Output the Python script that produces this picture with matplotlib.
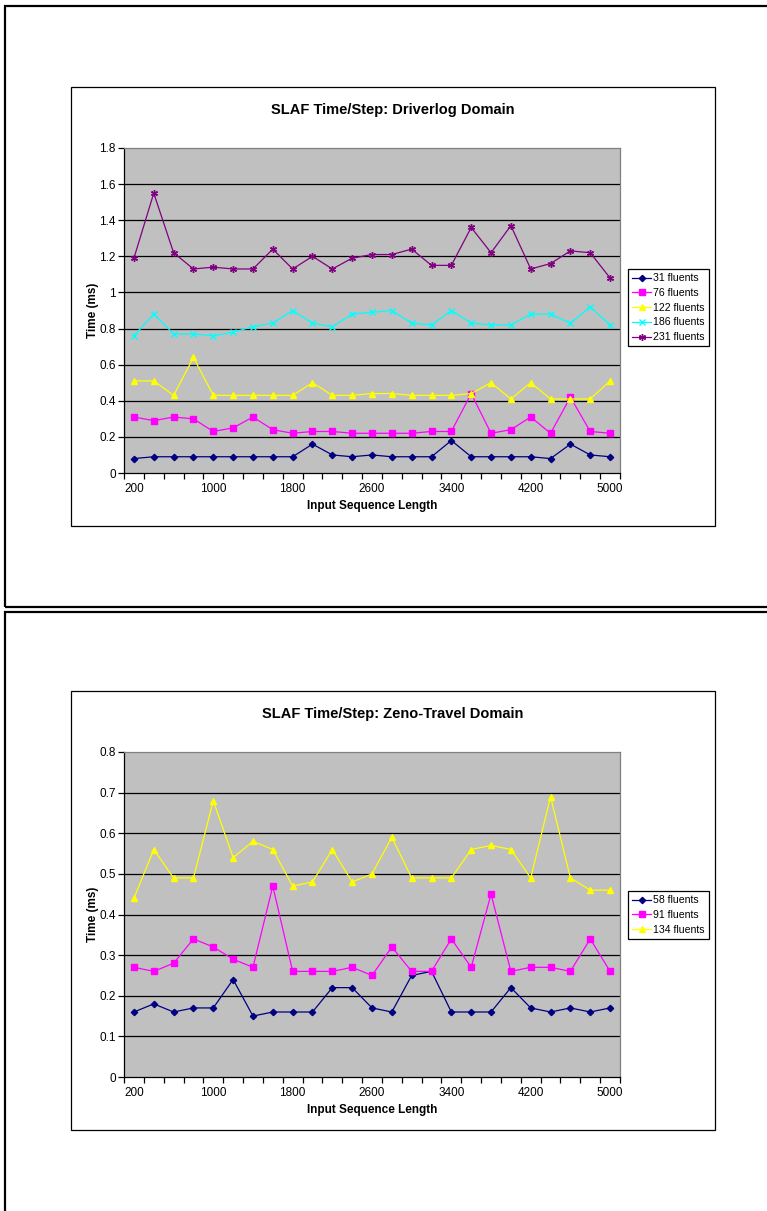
import matplotlib
matplotlib.use("Agg")
import matplotlib.pyplot as plt
from matplotlib.patches import Rectangle
from matplotlib.ticker import FixedLocator, FixedFormatter

plt.rcParams['font.family'] = ['Liberation Sans', 'DejaVu Sans']

# Input sequence lengths (categories)
seq_lengths = list(range(200, 5001, 200))
tick_labels = ['200', '1000', '1800', '2600', '3400', '4200', '5000']

# Driverlog domain: time per step (ms)
drv_31 = [0.08, 0.09, 0.09, 0.09, 0.09, 0.09, 0.09, 0.09, 0.09, 0.16, 0.10, 0.09, 0.10,
          0.09, 0.09, 0.09, 0.18, 0.09, 0.09, 0.09, 0.09, 0.08, 0.16, 0.10, 0.09]
drv_76 = [0.31, 0.29, 0.31, 0.30, 0.23, 0.25, 0.31, 0.24, 0.22, 0.23, 0.23, 0.22, 0.22,
          0.22, 0.22, 0.23, 0.23, 0.44, 0.22, 0.24, 0.31, 0.22, 0.42, 0.23, 0.22]
drv_122 = [0.51, 0.51, 0.43, 0.64, 0.43, 0.43, 0.43, 0.43, 0.43, 0.50, 0.43, 0.43, 0.44,
           0.44, 0.43, 0.43, 0.43, 0.44, 0.50, 0.41, 0.50, 0.41, 0.41, 0.41, 0.51]
drv_186 = [0.76, 0.88, 0.77, 0.77, 0.76, 0.78, 0.81, 0.83, 0.90, 0.83, 0.81, 0.88, 0.89,
           0.90, 0.83, 0.82, 0.90, 0.83, 0.82, 0.82, 0.88, 0.88, 0.83, 0.92, 0.82]
drv_231 = [1.19, 1.55, 1.22, 1.13, 1.14, 1.13, 1.13, 1.24, 1.13, 1.20, 1.13, 1.19, 1.21,
           1.21, 1.24, 1.15, 1.15, 1.36, 1.22, 1.37, 1.13, 1.16, 1.23, 1.22, 1.08]

# Zeno-Travel domain: time per step (ms)
zeno_58 = [0.16, 0.18, 0.16, 0.17, 0.17, 0.24, 0.15, 0.16, 0.16, 0.16, 0.22, 0.22, 0.17,
           0.16, 0.25, 0.26, 0.16, 0.16, 0.16, 0.22, 0.17, 0.16, 0.17, 0.16, 0.17]
zeno_91 = [0.27, 0.26, 0.28, 0.34, 0.32, 0.29, 0.27, 0.47, 0.26, 0.26, 0.26, 0.27, 0.25,
           0.32, 0.26, 0.26, 0.34, 0.27, 0.45, 0.26, 0.27, 0.27, 0.26, 0.34, 0.26]
zeno_134 = [0.44, 0.56, 0.49, 0.49, 0.68, 0.54, 0.58, 0.56, 0.47, 0.48, 0.56, 0.48, 0.50,
            0.59, 0.49, 0.49, 0.49, 0.56, 0.57, 0.56, 0.49, 0.69, 0.49, 0.46, 0.46]

drv_labels = ['31 fluents', '76 fluents', '122 fluents', '186 fluents', '231 fluents']
zeno_labels = ['58 fluents', '91 fluents', '134 fluents']

NAVY, MAGENTA, YELLOW, CYAN, PURPLE = '#000080', '#FF00FF', '#FFFF00', '#00FFFF', '#800080'
styles = [
    dict(color=NAVY, marker='D', markersize=3.2),
    dict(color=MAGENTA, marker='s', markersize=4.2),
    dict(color=YELLOW, marker='^', markersize=4.6),
    dict(color=CYAN, marker='x', markersize=4.4, markeredgewidth=1.0),
    dict(color=PURPLE, marker=(6, 2, 0), markersize=5.0, markeredgewidth=1.0),
]

W, H = 767, 1211
fig = plt.figure(figsize=(W / 100, H / 100), dpi=100)


def fx(px):
    return px / W


def fy(py):
    return 1 - py / H


def frame(x0, y0, x1, y1, lw, color='black'):
    fig.patches.append(Rectangle((fx(x0), fy(y1)), fx(x1) - fx(x0), fy(y0) - fy(y1),
                                 transform=fig.transFigure, fill=False,
                                 edgecolor=color, linewidth=lw, zorder=0))


# page frames around each chart
frame(5, 6, 775, 607, 1.6)
frame(5, 612, 775, 1225, 1.6)


def chart(top, series, labels, ymax, ystep, title, legend_top):
    # chart area frame
    frame(71, top, 715, top + 439, 0.9)
    plot_top = top + 61
    plot_bot = top + 386
    ax = fig.add_axes([fx(124), fy(plot_bot), fx(620) - fx(124), fy(plot_top) - fy(plot_bot)])
    ax.set_facecolor('#C0C0C0')
    x = list(range(len(seq_lengths)))
    handles = []
    for vals, lab, st in zip(series, labels, styles):
        h, = ax.plot(x, vals, linewidth=0.9, label=lab, markeredgecolor=st['color'], **st)
        handles.append(h)
    ax.set_xlim(-0.5, len(seq_lengths) - 0.5)
    ax.set_ylim(0, ymax)
    nticks = int(round(ymax / ystep))
    yt = [i * ystep for i in range(nticks + 1)]
    ax.set_yticks(yt)
    ax.set_yticklabels(['0' if v == 0 else ('%g' % round(v, 2)) for v in yt])
    for v in yt[1:-1]:
        ax.axhline(v, color='black', linewidth=0.9, zorder=1)
    # category axis: ticks between categories, labels every 4th category
    ax.xaxis.set_major_locator(FixedLocator([i - 0.5 for i in range(len(seq_lengths) + 1)]))
    ax.xaxis.set_major_formatter(FixedFormatter([''] * (len(seq_lengths) + 1)))
    ax.xaxis.set_minor_locator(FixedLocator([seq_lengths.index(int(t)) for t in tick_labels]))
    ax.xaxis.set_minor_formatter(FixedFormatter(tick_labels))
    ax.tick_params(axis='x', which='major', direction='out', length=4, width=0.9)
    ax.tick_params(axis='x', which='minor', length=0, pad=7, labelsize=8.5)
    ax.tick_params(axis='y', direction='out', length=4, width=0.9, labelsize=8.5, pad=2)
    for s in ('top', 'right'):
        ax.spines[s].set_color('#808080')
        ax.spines[s].set_linewidth(0.9)
    for s in ('left', 'bottom'):
        ax.spines[s].set_color('black')
        ax.spines[s].set_linewidth(0.9)
    ax.set_xlabel('Input Sequence Length', fontsize=8.5, fontweight='bold', labelpad=4)
    ax.set_ylabel('Time (ms)', fontsize=8.5, fontweight='bold', labelpad=0)
    fig.text(fx(393), fy(top + 23), title, ha='center', va='center',
             fontsize=10.5, fontweight='bold')
    leg = fig.legend(handles=handles, labels=labels, loc='upper left',
                     bbox_to_anchor=(fx(628), fy(legend_top)), fontsize=7.6,
                     frameon=True, fancybox=False, edgecolor='black', framealpha=1,
                     borderpad=0.4, labelspacing=0.45, handlelength=1.8,
                     handletextpad=0.15, borderaxespad=0)
    leg.get_frame().set_linewidth(0.9)
    return ax


chart(87, [drv_31, drv_76, drv_122, drv_186, drv_231], drv_labels, 1.8, 0.2,
      'SLAF Time/Step: Driverlog Domain', 269)
chart(691, [zeno_58, zeno_91, zeno_134], zeno_labels, 0.8, 0.1,
      'SLAF Time/Step: Zeno-Travel Domain', 891)

fig.savefig('out.png', dpi=100)
